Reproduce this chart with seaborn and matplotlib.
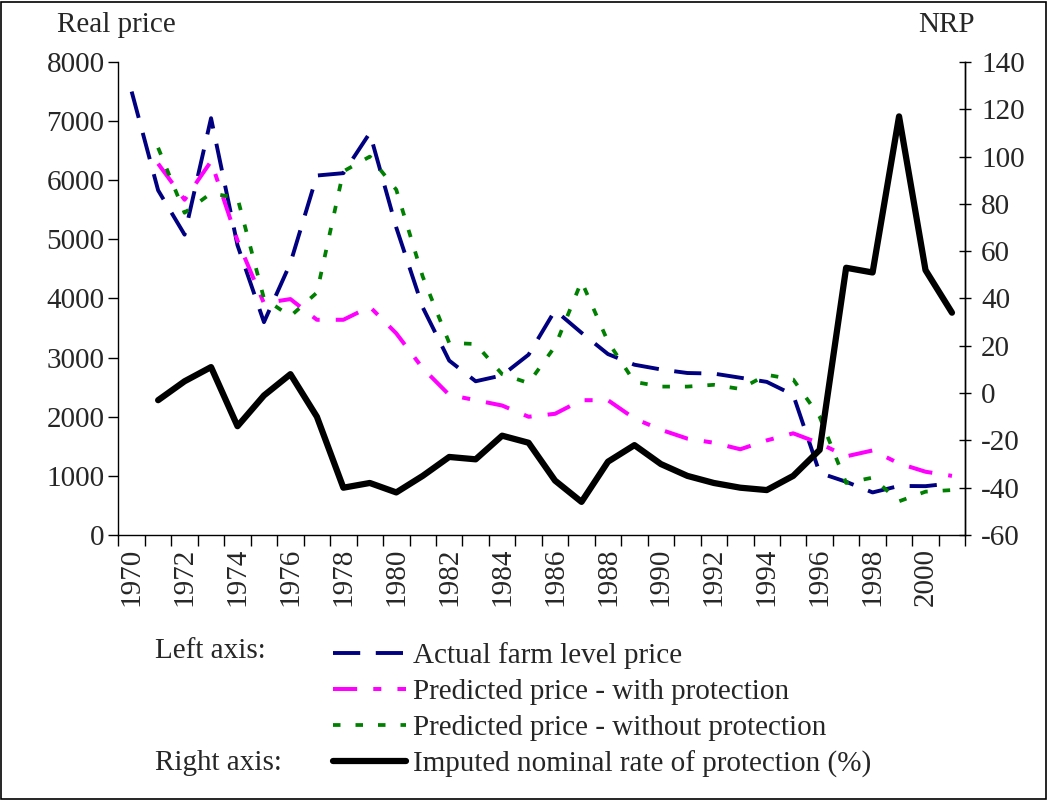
import numpy as np
import pandas as pd
import matplotlib
matplotlib.use("Agg")
import matplotlib.pyplot as plt
from matplotlib.patches import Rectangle
import seaborn as sns

# ---- data ----
years = list(range(1970, 2002))
actual_price = [7500, 5830, 5080, 7050, 4900, 3600, 4600, 6080, 6120, 6800,
                5200, 3850, 2950, 2600, 2700, 3050, 3800, 3420, 3060, 2880,
                2800, 2740, 2730, 2660, 2590, 2370, 1050, 900, 720, 830,
                826, 875]
pred_with = [np.nan, 6280, 5670, 6320, 4980, 3920, 3990, 3640, 3640, 3860,
             3410, 2820, 2370, 2280, 2190, 2000, 2050, 2280, 2280, 1970,
             1780, 1630, 1560, 1450, 1600, 1720, 1550, 1330, 1430, 1210,
             1070, 1000]
pred_without = [np.nan, 6550, 5450, 5780, 5700, 4000, 3700, 4100, 6150, 6400,
                5840, 4370, 3250, 3230, 2720, 2570, 3190, 4290, 3270, 2590,
                2510, 2510, 2540, 2470, 2710, 2630, 2000, 880, 970, 570,
                733, 760]
nrp = [np.nan, -3, 5, 11, -14, -1, 8, -10, -40, -38,
       -42, -35, -27, -28, -18, -21, -37, -46, -29, -22,
       -30, -35, -38, -40, -41, -35, -24, 53, 51, 117,
       52, 34]

labels = ["Actual farm level price",
          "Predicted price - with protection",
          "Predicted price - without protection",
          "Imputed nominal rate of protection (%)"]
left_ticks = list(range(0, 8001, 1000))
right_ticks = list(range(-60, 141, 20))

FS = 21

# ---- style ----
sns.set_style("ticks")
plt.rcParams['font.family'] = ['Liberation Serif', 'DejaVu Serif']

fig = plt.figure(figsize=(10.48, 8.0), dpi=100)
ax = fig.add_axes([0.113, 0.33125, 0.808, 0.59125])
ax2 = ax.twinx()


def draw(axis, vals, **kw):
    df = pd.DataFrame({"year": years, "v": vals}).dropna()
    sns.lineplot(data=df, x="year", y="v", ax=axis, errorbar=None,
                 legend=False, **kw)
    return axis.lines[-1]


h1 = draw(ax, actual_price, color="#000080", linewidth=2.8,
          linestyle=(0, (7, 4)))
h2 = draw(ax, pred_with, color="#FF00FF", linewidth=2.9,
          linestyle=(0, (6, 4, 2, 4)))
h3 = draw(ax, pred_without, color="#008000", linewidth=2.7,
          linestyle=(0, (2, 4)))
h4 = draw(ax2, nrp, color="black", linewidth=4.5, linestyle="-")

for a in (ax, ax2):
    a.set_xlabel("")
    a.set_ylabel("")
    a.spines['top'].set_visible(False)
    for s in a.spines.values():
        s.set_color("black")
        s.set_linewidth(1.0)

ax.set_xlim(1969.5, 2001.5)
ax.set_xticks(years[::2])
ax.set_xticks(np.arange(1969.5, 2002, 1.0), minor=True)
ax.set_xticklabels([str(y) for y in years[::2]], rotation=90, fontsize=FS)
ax.tick_params(axis='x', which='major', length=0, pad=9)
ax.tick_params(axis='x', which='minor', length=8, width=1, direction='out',
               color='black')

ax.set_ylim(0, 8000)
ax.set_yticks(left_ticks)
ax.set_yticklabels([str(t) for t in left_ticks], fontsize=FS)
ax.tick_params(axis='y', length=7, width=1, direction='out', pad=3,
               color='black')

ax2.set_ylim(-60, 140)
ax2.set_yticks(right_ticks)
ax2.set_yticklabels([str(t) for t in right_ticks], fontsize=FS)
ax2.tick_params(axis='y', length=9, width=1, direction='inout', pad=7,
                color='black')
ax2.spines['left'].set_visible(False)
ax2.spines['bottom'].set_visible(False)

fig.text(57 / 1048, 1 - 25 / 800, "Real price", fontsize=FS, va='center',
         ha='left')
fig.text(975 / 1048, 1 - 25 / 800, "NRP", fontsize=FS, va='center',
         ha='right')

fig.legend([h1, h2, h3, h4], labels, loc='center left',
           bbox_to_anchor=(333 / 1048, 1 - 710 / 800), frameon=False,
           fontsize=FS, handlelength=2.5, handletextpad=0.25,
           labelspacing=0.33, borderpad=0, borderaxespad=0)
fig.text(155 / 1048, 1 - 651 / 800, "Left axis:", fontsize=FS, va='center')
fig.text(155 / 1048, 1 - 763 / 800, "Right axis:", fontsize=FS, va='center')

fig.patches.append(Rectangle((0.001, 0.001), 0.997, 0.997,
                             transform=fig.transFigure, fill=False,
                             edgecolor='black', linewidth=1.2))

fig.savefig("out.png", dpi=100)
